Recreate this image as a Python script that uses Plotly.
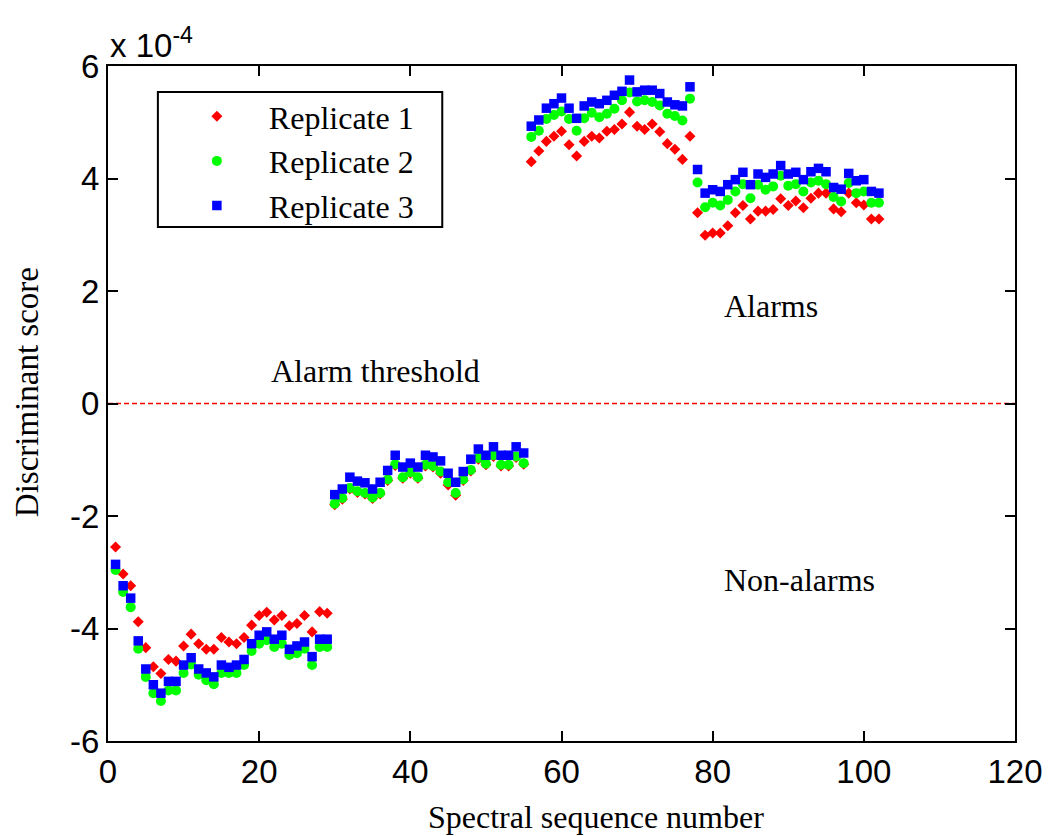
import plotly.graph_objects as go

x_seg = list(range(1, 103))

# Replicate 1 (red diamonds), values in units of 1e-4
rep1 = [
    -2.55, -3.03, -3.24, -3.88, -4.34, -4.68, -4.80, -4.55, -4.58, -4.31,
    -4.10, -4.27, -4.37, -4.37, -4.16, -4.24, -4.27, -4.16, -3.94, -3.77,
    -3.71, -3.85, -3.77, -3.95, -3.91, -3.77, -4.06, -3.70, -3.73,
    -1.80, -1.70, -1.52, -1.58, -1.61, -1.69, -1.61, -1.37, -1.10, -1.33,
    -1.24, -1.33, -1.11, -1.13, -1.24, -1.45, -1.63, -1.37, -1.20, -0.99,
    -1.09, -0.94, -1.11, -1.11, -0.96, -1.08,
    4.30, 4.49, 4.66, 4.75, 4.84, 4.60, 4.40, 4.66, 4.75, 4.72,
    4.84, 4.87, 4.97, 5.18, 4.93, 4.87, 4.97, 4.83, 4.62, 4.52,
    4.34, 4.75,
    3.39, 2.99, 3.03, 3.03, 3.16, 3.39, 3.52, 3.28, 3.42, 3.42,
    3.45, 3.64, 3.52, 3.60, 3.48, 3.65, 3.74, 3.74, 3.46, 3.41,
    3.74, 3.57, 3.53, 3.28, 3.28,
]

# Replicate 2 (green circles)
rep2 = [
    -2.96, -3.35, -3.62, -4.36, -4.86, -5.15, -5.29, -5.10, -5.10, -4.79,
    -4.64, -4.82, -4.92, -4.99, -4.79, -4.79, -4.79, -4.65, -4.40, -4.27,
    -4.21, -4.33, -4.27, -4.47, -4.44, -4.36, -4.65, -4.33, -4.33,
    -1.78, -1.68, -1.50, -1.56, -1.59, -1.67, -1.59, -1.35, -1.08, -1.31,
    -1.22, -1.31, -1.09, -1.11, -1.21, -1.40, -1.59, -1.35, -1.18, -0.97,
    -1.07, -0.92, -1.09, -1.09, -0.94, -1.06,
    4.74, 4.85, 5.06, 5.13, 5.19, 5.06, 4.85, 5.07, 5.17, 5.09,
    5.15, 5.24, 5.39, 5.53, 5.37, 5.39, 5.36, 5.30, 5.15, 5.11,
    5.03, 5.42,
    3.93, 3.49, 3.57, 3.52, 3.62, 3.77, 3.90, 3.65, 3.89, 3.80,
    3.86, 4.05, 3.87, 3.90, 3.77, 3.93, 3.96, 3.90, 3.67, 3.59,
    3.92, 3.74, 3.77, 3.57, 3.57,
]

# Replicate 3 (blue squares)
rep3 = [
    -2.86, -3.24, -3.46, -4.22, -4.72, -5.00, -5.15, -4.94, -4.94, -4.65,
    -4.52, -4.72, -4.79, -4.86, -4.65, -4.69, -4.65, -4.55, -4.27, -4.12,
    -4.06, -4.19, -4.12, -4.37, -4.31, -4.24, -4.50, -4.19, -4.19,
    -1.62, -1.52, -1.31, -1.38, -1.41, -1.52, -1.40, -1.19, -0.92, -1.13,
    -1.06, -1.13, -0.92, -0.95, -1.02, -1.24, -1.40, -1.21, -0.99, -0.81,
    -0.92, -0.77, -0.92, -0.92, -0.77, -0.88,
    4.93, 5.04, 5.25, 5.33, 5.43, 5.25, 5.07, 5.29, 5.36, 5.33,
    5.39, 5.48, 5.55, 5.75, 5.54, 5.57, 5.57, 5.51, 5.36, 5.31,
    5.29, 5.63,
    4.16, 3.74, 3.80, 3.77, 3.89, 3.98, 4.11, 3.89, 4.08, 4.02,
    4.08, 4.23, 4.08, 4.11, 3.98, 4.12, 4.18, 4.12, 3.84, 3.81,
    4.09, 3.96, 3.98, 3.77, 3.74,
]

x_ticks = [0, 20, 40, 60, 80, 100, 120]
y_ticks = [-6, -4, -2, 0, 2, 4, 6]
y_tick_text = ["-6", "-4", "-2", "0", "2", "4", "6"]
threshold_x = [0, 120]
threshold_y = [0, 0]

SERIF = "Liberation Serif, Times New Roman, serif"
SANS = "Liberation Sans, Arial, sans-serif"

# plot area in pixels (for placing labels like the reference)
plot_l, plot_r, plot_t, plot_b = 108, 1017, 66, 741
pw, ph = plot_r - plot_l, plot_b - plot_t


def px(xp):
    return (xp - plot_l) / pw


def py(yp):
    return (plot_b - yp) / ph


fig = go.Figure()
fig.add_trace(go.Scatter(x=threshold_x, y=threshold_y, mode="lines",
                         line=dict(color="#ff0000", width=1.3, dash="5px,3px"),
                         showlegend=False, hoverinfo="skip"))
fig.add_trace(go.Scatter(x=x_seg, y=rep1, mode="markers", name="Replicate 1",
                         marker=dict(symbol="diamond", size=8.5, color="#ff0000",
                                     line=dict(width=0))))
fig.add_trace(go.Scatter(x=x_seg, y=rep2, mode="markers", name="Replicate 2",
                         marker=dict(symbol="circle", size=10, color="#00ff00",
                                     line=dict(width=0))))
fig.add_trace(go.Scatter(x=x_seg, y=rep3, mode="markers", name="Replicate 3",
                         marker=dict(symbol="square", size=9.5, color="#0000ff",
                                     line=dict(width=0))))

axis_common = dict(showgrid=False, zeroline=False, showline=True, linecolor="black",
                   linewidth=2, mirror="ticks", ticks="inside", ticklen=10,
                   tickwidth=2, tickcolor="black",
                   tickfont=dict(family=SANS, size=33, color="black"))

fig.update_xaxes(range=[0, 120], tickvals=x_ticks, **axis_common)
fig.update_yaxes(range=[-6, 6], tickvals=y_ticks, ticktext=y_tick_text, **axis_common)

fig.update_layout(
    width=1055, height=836,
    margin=dict(l=plot_l, r=1055 - plot_r, t=plot_t, b=836 - plot_b),
    paper_bgcolor="white", plot_bgcolor="white",
    legend=dict(x=px(165), y=py(89), xanchor="left", yanchor="top",
                borderwidth=0, bgcolor="rgba(0,0,0,0)",
                font=dict(family=SERIF, size=32, color="black"),
                itemwidth=94, tracegroupgap=0),
    shapes=[
        dict(type="rect", xref="paper", yref="paper",
             x0=px(158), x1=px(443), y0=py(227), y1=py(92),
             line=dict(color="black", width=2), fillcolor="rgba(0,0,0,0)",
             layer="below"),
    ],
    annotations=[
        dict(text="x 10<sup>-4</sup>", x=0, y=1.0, xref="paper", yref="paper",
             xanchor="left", yanchor="bottom", showarrow=False,
             font=dict(family=SANS, size=33, color="black")),
        dict(text="Alarm threshold", x=21.3, y=0.57, xref="x", yref="y",
             xanchor="left", yanchor="middle", showarrow=False,
             font=dict(family=SERIF, size=32, color="black")),
        dict(text="Alarms", x=81.2, y=1.73, xref="x", yref="y",
             xanchor="left", yanchor="middle", showarrow=False,
             font=dict(family=SERIF, size=32, color="black")),
        dict(text="Non-alarms", x=81.2, y=-3.14, xref="x", yref="y",
             xanchor="left", yanchor="middle", showarrow=False,
             font=dict(family=SERIF, size=32, color="black")),
        dict(text="Spectral sequence number", x=px(597), y=py(817),
             xref="paper", yref="paper", xanchor="center", yanchor="middle",
             showarrow=False, font=dict(family=SERIF, size=32, color="black")),
        dict(text="Discriminant score", x=px(27), y=py(392),
             xref="paper", yref="paper", textangle=-90, showarrow=False,
             xanchor="center", yanchor="middle",
             font=dict(family=SERIF, size=33, color="black")),
    ],
)

fig.write_html("out.html")
